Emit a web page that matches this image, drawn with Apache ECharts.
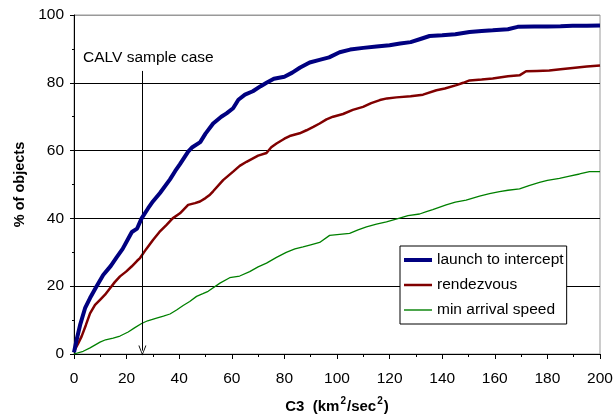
<!DOCTYPE html>
<html><head><meta charset="utf-8">
<script src="https://cdn.jsdelivr.net/npm/echarts@6/dist/echarts.min.js"></script>
<style>html,body{margin:0;padding:0;background:#fff}#c{width:613px;height:416px}</style>
</head><body><div id="c"></div>
<script>
var seriesNames = ['launch to intercept', 'rendezvous', 'min arrival speed'];
var xTicks = [0, 20, 40, 60, 80, 100, 120, 140, 160, 180, 200];
var yTicks = [0, 20, 40, 60, 80, 100];

var launchX = [0,1,2.3,4.2,6.1,8.6,11.1,14,16.2,18.5,20.6,22,24,25.7,28.2,30,32.7,36.5,38.5,40.3,43.4,45,48,50,52.9,56,58,60.5,62.5,65,68,71,73.2,76,80,83,86,89.6,93,97,101,105,110,115,120,124,128,132,135.2,140,145,150.4,155,159.2,165,168.7,175,180,185,189.6,195,200];
var launchY = [0.5,4.2,8.5,13.5,16.5,20,23.3,26,28.5,31,34,36,37,40,43,45,47.5,51.5,54,56,59.7,61,62.5,65,68,70,71,72.5,75,76.5,77.5,79,80,81.2,81.8,83,84.5,86,86.7,87.5,89,89.8,90.3,90.7,91.1,91.6,92,93,93.8,94,94.3,95,95.3,95.5,95.8,96.5,96.6,96.6,96.7,96.8,96.8,96.9];

var rendX = [0,1.5,2.9,4.5,6.1,8,9.9,11.8,13.7,15.5,17.5,19.8,21.9,24,25.1,27.5,30.1,32.5,35.2,37.5,40.3,43.4,46,47.9,50,51.7,52.9,56.7,60.5,63,65.6,70,73.2,75,77,80,82,85.8,88.4,91,93.4,96,98.5,102.3,106,109.9,113,116.3,119,122.6,128,132.7,137.8,141,145.4,148,150.4,155,159.2,165,169.4,171.9,176,180.7,185,189.6,195,200];
var rendY = [0.8,3,5.2,8.5,12,14.5,16,17.5,19.4,21.2,22.9,24.3,25.8,27.5,28.3,31,33.7,36,38.1,40,41.5,44,44.5,45,46,47,48,51.3,53.8,55.5,56.7,58.5,59.3,61,62.1,63.5,64.3,65.1,66,67,68,69.2,70,70.8,72,72.9,74,74.9,75.4,75.7,76,76.5,77.8,78.3,79.3,80,80.7,81,81.3,81.9,82.2,83.4,83.5,83.6,84,84.4,84.8,85.1];

var minX = [0,3.5,6.1,9.9,12,14.9,17.5,20.6,23,25.7,28,31.4,34,36.5,39,41.5,44,46.6,49,51,55.5,59.2,63,66.8,70,73.2,77,80.7,84,87.1,90,93.4,97.2,101,104.8,108,111.2,115,118.8,123.8,127,131.4,134,136.4,141.5,145,149.1,154.2,158,161.8,165,169.4,173,177,180,184.6,188,192.2,196,200];
var minY = [0,0.8,1.8,3.5,4.2,4.7,5.3,6.5,7.7,9,9.8,10.6,11.2,11.8,13,14.3,15.5,17,17.8,18.5,20.9,22.5,23,24.3,25.7,26.8,28.5,30,31,31.6,32.2,32.9,35,35.3,35.6,36.6,37.5,38.3,39,40.1,40.8,41.3,42,42.6,44,44.8,45.4,46.6,47.3,47.9,48.3,48.7,49.7,50.6,51.2,51.8,52.4,53.1,53.8,53.8];

var calvX = 26;
var calvTop = 83.5;
var calvBottom = 1;
var calvLabel = 'CALV sample case';

function pairs(xs, ys) { return xs.map(function (x, i) { return [x, ys[i]]; }); }

var FONT = 'Liberation Sans, Arial, sans-serif';
var FS = 15.5;
var chart = echarts.init(document.getElementById('c'), null, {renderer: 'canvas'});
chart.setOption({
  animation: false,
  backgroundColor: '#fff',
  textStyle: {fontFamily: FONT},
  grid: {left: 74, right: 13, top: 15, bottom: 62, containLabel: false, outerBoundsMode: 'none',
    show: true, borderColor: '#999', borderWidth: 1, backgroundColor: 'transparent'},
  legend: {
    data: [
      {name: seriesNames[0], icon: 'path://M0,0 H28 V4 H0 Z'},
      {name: seriesNames[1], icon: 'path://M0,0 H28 V2.5 H0 Z'},
      {name: seriesNames[2], icon: 'path://M0,0 H28 V1.4 H0 Z'}
    ],
    symbolKeepAspect: true,
    orient: 'vertical',
    left: 400, top: 246,
    padding: [5, 3, 5, 4],
    itemWidth: 28, itemHeight: 14, itemGap: 7,
    borderColor: '#000', borderWidth: 1, backgroundColor: '#fff',
    textStyle: {fontFamily: FONT, fontSize: FS, color: '#000', lineHeight: 18}
  },
  xAxis: {
    type: 'value', min: xTicks[0], max: xTicks[xTicks.length - 1], interval: 20,
    axisLine: {show: true, lineStyle: {color: '#000', width: 1}},
    axisTick: {show: true, length: 5, lineStyle: {color: '#000'}},
    minorTick: {show: true, splitNumber: 2, length: 3, lineStyle: {color: '#000'}},
    splitLine: {show: false},
    axisLabel: {color: '#000', fontSize: FS, fontFamily: FONT, margin: 17},
    name: '{n|C3  (km}{s|2}{n|/sec}{s|2}{n|)}', nameLocation: 'middle', nameGap: 42,
    nameTextStyle: {
      rich: {
        n: {fontWeight: 'bold', fontSize: 15, color: '#000', fontFamily: FONT, verticalAlign: 'bottom', lineHeight: 18},
        s: {fontWeight: 'bold', fontSize: 10, color: '#000', fontFamily: FONT, verticalAlign: 'top', lineHeight: 18, padding: [0, 1, 6, 1]}
      }
    }
  },
  yAxis: {
    type: 'value', min: yTicks[0], max: yTicks[yTicks.length - 1], interval: 20,
    axisLine: {show: true, lineStyle: {color: '#000', width: 1}},
    axisTick: {show: true, length: 4, lineStyle: {color: '#000'}},
    minorTick: {show: true, splitNumber: 2, length: 2, lineStyle: {color: '#000'}},
    splitLine: {show: true, lineStyle: {color: ['#000', '#000', '#000', '#000', '#000', '#999'], width: 1}},
    axisLabel: {color: '#000', fontSize: FS, fontFamily: FONT, margin: 10},
    name: '% of objects', nameLocation: 'middle', nameGap: 44,
    nameTextStyle: {fontWeight: 'bold', fontSize: 14.5, color: '#000', fontFamily: FONT}
  },
  series: [
    {
      name: seriesNames[0], type: 'line', data: pairs(launchX, launchY), symbol: 'none', z: 5,
      lineStyle: {color: '#000080', width: 4}, itemStyle: {color: '#000080'},
      markLine: {
        silent: true, symbol: ['none', 'path://M5,0 L10,10 L8.8,10 L5,2.2 L1.2,10 L0,10 Z'], symbolSize: [8, 10],
        lineStyle: {color: '#000', width: 1, type: 'solid'},
        label: {show: true, position: 'start', formatter: calvLabel, color: '#000', fontSize: FS, fontFamily: FONT, distance: 5, offset: [6, 0]},
        data: [[{coord: [calvX, calvTop]}, {coord: [calvX, calvBottom]}]]
      }
    },
    {name: seriesNames[1], type: 'line', data: pairs(rendX, rendY), symbol: 'none', z: 4,
      lineStyle: {color: '#800000', width: 2.5}, itemStyle: {color: '#800000'}},
    {name: seriesNames[2], type: 'line', data: pairs(minX, minY), symbol: 'none', z: 3,
      lineStyle: {color: '#008000', width: 1.3}, itemStyle: {color: '#008000'}}
  ]
});
</script></body></html>
